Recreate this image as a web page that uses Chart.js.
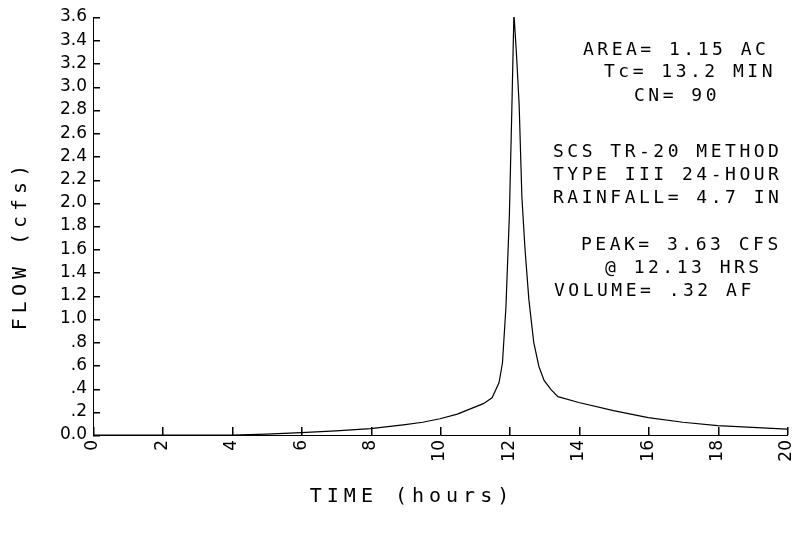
<!DOCTYPE html>
<html>
<head>
<meta charset="utf-8">
<script src="https://cdn.jsdelivr.net/npm/chart.js@4"></script>
<style>
  html, body { margin: 0; padding: 0; background: #fff; }
  #wrap { width: 798px; height: 539px; }
</style>
</head>
<body>
<div id="wrap"><canvas id="grafico"></canvas></div>
<script>
// hydrograph (hours, cfs)
var horas = [0, 1, 2, 3, 4, 4.5, 5, 6, 7, 8, 9, 9.5, 10, 10.5, 11, 11.25, 11.5, 11.7, 11.8, 11.9, 12.0, 12.07, 12.13, 12.2, 12.28, 12.36, 12.45, 12.56, 12.7, 12.85, 13.0, 13.2, 13.4, 14, 15, 16, 17, 18, 19, 20];
var caudal = [0, 0, 0, 0, 0, 0.003, 0.008, 0.02, 0.035, 0.055, 0.09, 0.11, 0.14, 0.18, 0.24, 0.27, 0.32, 0.45, 0.62, 1.1, 1.9, 2.8, 3.63, 3.3, 2.85, 2.05, 1.6, 1.17, 0.8, 0.59, 0.47, 0.39, 0.33, 0.28, 0.21, 0.15, 0.11, 0.08, 0.065, 0.05];

var xTicks = ['0', '2', '4', '6', '8', '10', '12', '14', '16', '18', '20'];
var yTicks = ['0.0', '.2', '.4', '.6', '.8', '1.0', '1.2', '1.4', '1.6', '1.8', '2.0', '2.2', '2.4', '2.6', '2.8', '3.0', '3.2', '3.4', '3.6'];

var notas = ['AREA= 1.15 AC', 'Tc= 13.2 MIN', 'CN= 90',
             'SCS TR-20 METHOD', 'TYPE III 24-HOUR', 'RAINFALL= 4.7 IN',
             'PEAK= 3.63 CFS', '@ 12.13 HRS', 'VOLUME= .32 AF'];

var puntos = horas.map(function (h, i) {
    return { x: h, y: caudal[i] };
});

// short inward ticks + plotter style text
var extras = {
    id: 'extras',
    afterDraw: function (chart) {
        var ctx = chart.ctx;
        var a = chart.chartArea;
        var sx = chart.scales.x, sy = chart.scales.y;
        ctx.save();
        ctx.fillStyle = '#000';
        for (var i = 0; i < yTicks.length; i++) {
            var y = Math.round(sy.getPixelForValue(i * 0.2));
            ctx.fillRect(a.left, y, 7, 1.5);
        }
        for (var j = 0; j < xTicks.length; j++) {
            var x = Math.round(sx.getPixelForValue(j * 2));
            ctx.fillRect(x, a.bottom - 8, 1.5, 8);
        }

        ctx.textBaseline = 'middle';
        ctx.font = '18px "DejaVu Sans Mono"';
        ctx.letterSpacing = '3.5px';
        var posX = [583, 604, 634, 553, 553, 553, 581, 605, 554];
        var posY = [50, 72, 96, 152, 175, 198, 245, 268, 291];
        ctx.textAlign = 'left';
        notas.forEach(function (txt, i) {
            ctx.fillText(txt, posX[i], posY[i]);
        });

        ctx.font = '20px "DejaVu Sans Mono"';
        ctx.letterSpacing = '5px';
        ctx.textAlign = 'center';
        ctx.fillText('TIME (hours)', 412, 497);
        ctx.translate(21, 245);
        ctx.rotate(-Math.PI / 2);
        ctx.fillText('FLOW (cfs)', 0, 0);
        ctx.restore();
    }
};

var ctx = document.getElementById('grafico').getContext('2d');
new Chart(ctx, {
    type: 'line',
    data: {
        datasets: [{
            data: puntos,
            borderColor: '#000',
            borderWidth: 1.2,
            pointRadius: 0,
            fill: false,
            tension: 0
        }]
    },
    options: {
        responsive: true,
        maintainAspectRatio: false,
        animation: false,
        layout: {
            padding: { left: 0, right: 11, top: 17, bottom: 0 }
        },
        plugins: {
            legend: { display: false },
            tooltip: { enabled: false }
        },
        scales: {
            x: {
                type: 'linear',
                min: 0,
                max: 20,
                grid: { display: false, drawTicks: false },
                border: { display: true, color: '#000', width: 1 },
                ticks: {
                    stepSize: 2,
                    autoSkip: false,
                    minRotation: 90,
                    maxRotation: 90,
                    padding: 5,
                    color: '#000',
                    font: { family: 'DejaVu Sans', size: 17 },
                    callback: function (v, i) { return xTicks[i]; }
                },
                afterFit: function (scale) {
                    scale.height = 104;
                    scale.paddingLeft = 0;
                    scale.paddingRight = 0;
                }
            },
            y: {
                min: 0,
                max: 3.6,
                grid: { display: false, drawTicks: false },
                border: { display: true, color: '#000', width: 1 },
                ticks: {
                    stepSize: 0.2,
                    autoSkip: false,
                    padding: 6,
                    color: '#000',
                    font: { family: 'DejaVu Sans', size: 17 },
                    callback: function (v, i) { return yTicks[i]; }
                },
                afterFit: function (scale) {
                    scale.width = 93;
                    scale.paddingTop = 0;
                    scale.paddingBottom = 0;
                }
            }
        }
    },
    plugins: [extras]
});
</script>
</body>
</html>
